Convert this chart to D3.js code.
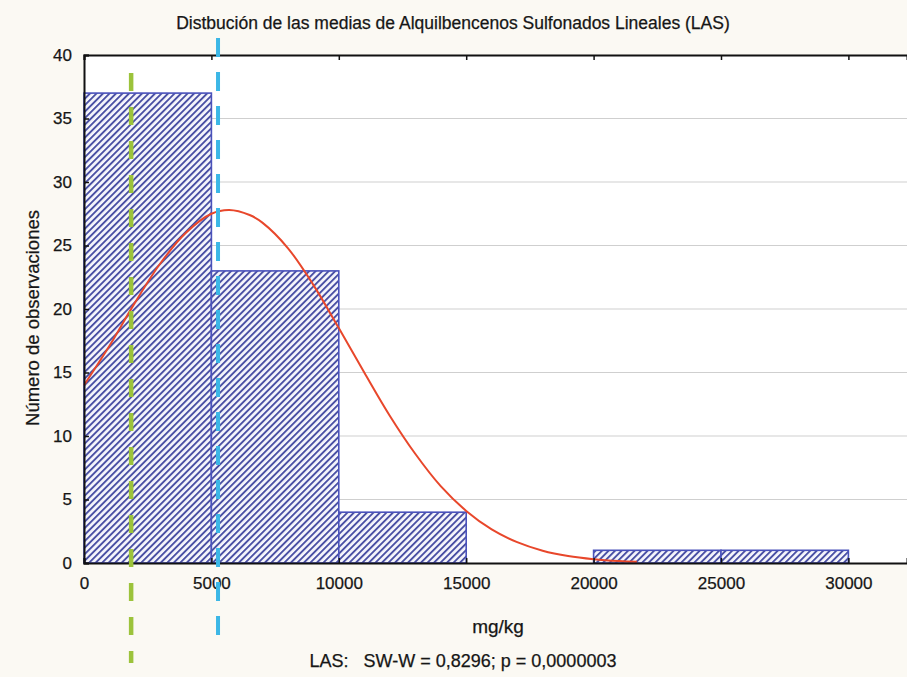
<!DOCTYPE html>
<html>
<head>
<meta charset="utf-8">
<script src="https://cdn.jsdelivr.net/npm/d3@7"></script>
<style>
  html, body { margin: 0; padding: 0; background: #fbf9f3; }
  svg { display: block; }
  text { font-family: "Liberation Sans", Arial, sans-serif; fill: #161616; stroke: #161616; stroke-width: 0.25px; }
</style>
</head>
<body>
<svg id="chart" width="907" height="677"></svg>
<script>
// ---- data ----
const binStarts = [0, 5000, 10000, 15000, 20000, 25000];
const binEnds   = [5000, 10000, 15000, 20000, 25000, 30000];
const counts    = [37, 23, 4, 0, 1, 1];
const yTicks    = [0, 5, 10, 15, 20, 25, 30, 35, 40];
const xTicks    = [0, 5000, 10000, 15000, 20000, 25000, 30000];
const curveX = [0, 1000, 2000, 3000, 4000, 5000, 5700, 6500, 7000, 8000, 9000, 10000, 11000, 12000, 13000, 14000, 15000, 16000, 17000, 18000, 19000, 20000, 21000, 21700];
const curveY = [14.0, 17.1, 20.5, 23.6, 26.0, 27.5, 27.8, 27.4, 26.8, 24.8, 21.9, 18.5, 15.0, 11.6, 8.6, 6.05, 4.1, 2.65, 1.64, 0.97, 0.55, 0.30, 0.15, 0.09];
const medianValue = 1850;
const meanValue = 5260;
const titleText = "Distbución de las medias de Alquilbencenos Sulfonados Lineales (LAS)";
const yLabel = "Número de observaciones";
const xLabel = "mg/kg";
const statsText = "LAS:   SW-W = 0,8296; p = 0,0000003";

// ---- layout ----
const svg = d3.select("#chart");
const pLeft = 84, pRight = 907, pTop = 55, pBottom = 563;
const x = d3.scaleLinear().domain([0, 32300]).range([pLeft, pRight]);
const y = d3.scaleLinear().domain([0, 40]).range([pBottom, pTop]);

const defs = svg.append("defs");
const pat = defs.append("pattern")
  .attr("id", "hatch").attr("patternUnits", "userSpaceOnUse")
  .attr("width", 4.6).attr("height", 4.6)
  .attr("patternTransform", "rotate(45)");
pat.append("rect").attr("width", 4.6).attr("height", 4.6).attr("fill", "#f6f6fc");
pat.append("rect").attr("width", 1.9).attr("height", 4.6).attr("fill", "#4a50a4");

// plot background
svg.append("rect").attr("x", pLeft).attr("y", pTop).attr("width", pRight - pLeft).attr("height", pBottom - pTop).attr("fill", "#ffffff");

// gridlines
svg.append("g").selectAll("line").data(yTicks.filter(d => d > 0 && d < 40)).join("line")
  .attr("x1", pLeft).attr("x2", pRight)
  .attr("y1", d => y(d)).attr("y2", d => y(d))
  .attr("stroke", "#cfcfcf").attr("stroke-width", 1.2);

// bars
svg.append("g").selectAll("rect").data(counts.map((c, i) => ({c, s: binStarts[i], e: binEnds[i]})).filter(d => d.c > 0)).join("rect")
  .attr("x", d => x(d.s)).attr("width", d => x(d.e) - x(d.s))
  .attr("y", d => y(d.c)).attr("height", d => y(0) - y(d.c))
  .attr("fill", "url(#hatch)").attr("stroke", "#4a52bb").attr("stroke-width", 1.6);

// curve
svg.append("path")
  .datum(curveX.map((v, i) => [v, curveY[i]]))
  .attr("d", d3.line().x(d => x(d[0])).y(d => y(d[1])).curve(d3.curveCatmullRom))
  .attr("fill", "none").attr("stroke", "#e8472b").attr("stroke-width", 2);

// axes
const axG = svg.append("g");
axG.append("g").attr("transform", `translate(0,${pBottom})`)
  .call(d3.axisBottom(x).tickValues(xTicks).tickSize(-5).tickPadding(14).tickFormat(d3.format("d")))
  .call(g => g.select(".domain").attr("stroke", "#111").attr("stroke-width", 2))
  .call(g => g.selectAll("line").attr("stroke", "#111").attr("stroke-width", 1.5))
  .call(g => g.selectAll("text").style("font-size", "17px").attr("fill", "#161616"));
axG.append("g").attr("transform", `translate(0,${pTop})`)
  .call(d3.axisTop(x).tickValues(xTicks).tickSize(-5).tickFormat(""))
  .call(g => g.select(".domain").attr("stroke", "#111").attr("stroke-width", 2))
  .call(g => g.selectAll("line").attr("stroke", "#111").attr("stroke-width", 1.5));
axG.append("g").attr("transform", `translate(${pLeft},0)`)
  .call(d3.axisLeft(y).tickValues(yTicks).tickSize(-5).tickPadding(12))
  .call(g => g.select(".domain").attr("stroke", "#111").attr("stroke-width", 2))
  .call(g => g.selectAll("line").attr("stroke", "#111").attr("stroke-width", 1.5))
  .call(g => g.selectAll("text").style("font-size", "17px").attr("fill", "#161616"));

// dashed reference lines
svg.append("line").attr("x1", x(medianValue)).attr("x2", x(medianValue))
  .attr("y1", 73).attr("y2", 663)
  .attr("stroke", "#9cc33b").attr("stroke-width", 4.5).attr("stroke-dasharray", "18,16");
svg.append("line").attr("x1", x(meanValue)).attr("x2", x(meanValue))
  .attr("y1", 38).attr("y2", 638)
  .attr("stroke", "#3cb7e6").attr("stroke-width", 4).attr("stroke-dasharray", "19,15");

// texts
svg.append("text").attr("x", 453).attr("y", 29).attr("text-anchor", "middle")
  .style("font-size", "17.5px").text(titleText);
svg.append("text").attr("transform", "translate(39,318) rotate(-90)").attr("text-anchor", "middle")
  .style("font-size", "18.5px").text(yLabel);
svg.append("text").attr("x", 498).attr("y", 633).attr("text-anchor", "middle")
  .style("font-size", "19px").text(xLabel);
svg.append("text").attr("x", 463).attr("y", 667).attr("text-anchor", "middle")
  .style("font-size", "18px").attr("xml:space", "preserve").style("white-space", "pre").text(statsText);
</script>
</body>
</html>
